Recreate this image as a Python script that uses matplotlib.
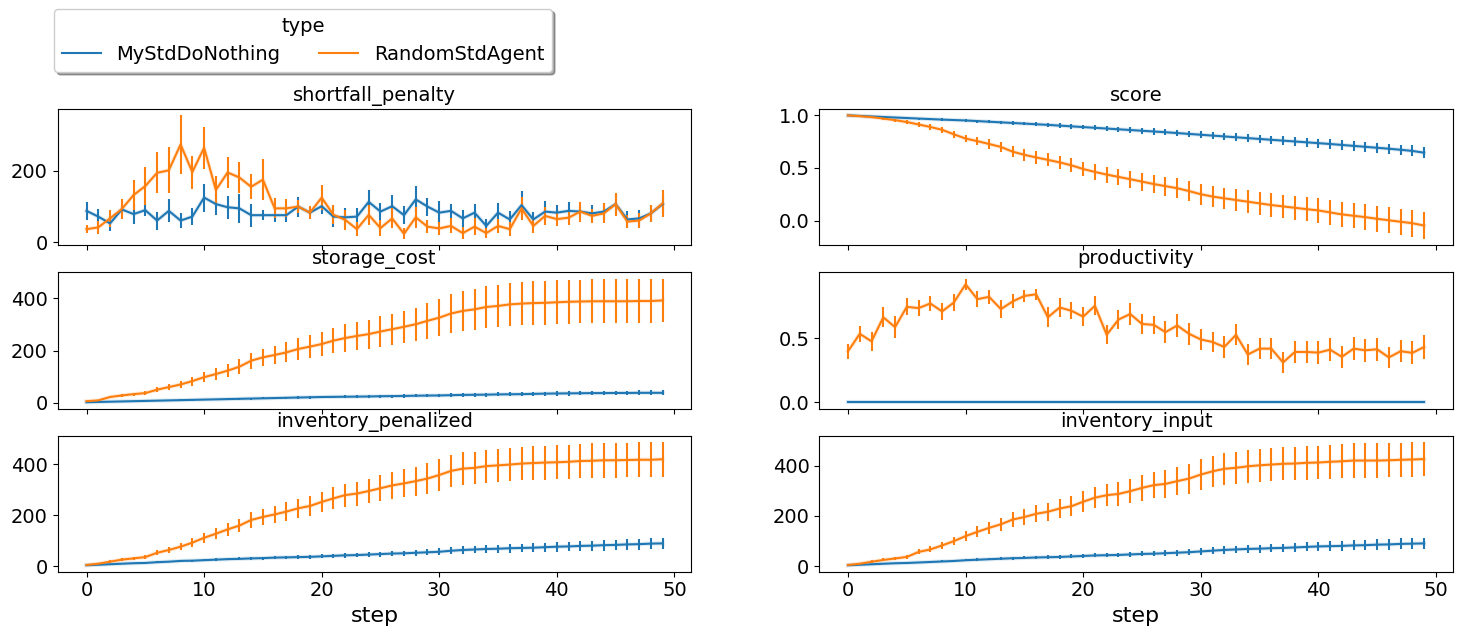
import matplotlib
matplotlib.use("Agg")
import matplotlib.pyplot as plt
from matplotlib.lines import Line2D
import numpy as np

steps = list(range(50))
agents = ["MyStdDoNothing", "RandomStdAgent"]
colors = ["#1f77b4", "#ff7f0e"]

# shortfall_penalty
shortfall_dn = [88, 72, 53, 92, 79, 90, 61, 88, 61, 72, 125, 107, 98, 95, 76, 76, 76, 76, 100, 83,
                101, 72, 70, 72, 113, 86, 101, 76, 120, 100, 83, 88, 67, 83, 46, 83, 64, 104, 64, 86,
                83, 88, 86, 81, 86, 107, 64, 67, 81, 107]
shortfall_dn_err = [26, 20, 21, 12, 29, 16, 25, 32, 20, 23, 39, 30, 32, 41, 32, 14, 19, 18, 28, 9,
                    23, 29, 25, 25, 32, 25, 30, 25, 37, 25, 32, 20, 24, 24, 20, 28, 25, 38, 20, 30,
                    21, 25, 19, 24, 23, 28, 23, 23, 23, 25]
shortfall_rd = [37, 42, 67, 93, 132, 157, 194, 201, 273, 196, 264, 146, 195, 181, 155, 175, 95, 95, 100, 83,
                125, 77, 63, 37, 77, 40, 67, 24, 70, 44, 39, 46, 26, 44, 26, 46, 37, 95, 46, 74,
                65, 69, 86, 74, 81, 107, 58, 61, 81, 109]
shortfall_rd_err = [11, 18, 23, 28, 41, 52, 57, 64, 81, 46, 58, 38, 42, 43, 35, 57, 28, 25, 18, 18,
                    34, 26, 28, 20, 28, 23, 28, 15, 30, 18, 18, 21, 17, 23, 14, 20, 20, 32, 20, 25,
                    20, 20, 28, 20, 28, 32, 18, 20, 23, 37]

# score
score_dn = [1.000, 0.995, 0.990, 0.985, 0.980, 0.975, 0.970, 0.965, 0.960, 0.956, 0.952, 0.946, 0.940,
            0.934, 0.928, 0.922, 0.916, 0.910, 0.903, 0.896, 0.889, 0.882, 0.875, 0.868, 0.861, 0.854,
            0.847, 0.840, 0.832, 0.824, 0.816, 0.808, 0.800, 0.792, 0.784, 0.776, 0.768, 0.760, 0.752,
            0.744, 0.736, 0.728, 0.719, 0.710, 0.701, 0.692, 0.683, 0.673, 0.662, 0.645]
score_dn_err = [0.0, 0.003, 0.005, 0.006, 0.007, 0.008, 0.009, 0.010, 0.011, 0.012, 0.013, 0.014, 0.015,
                0.016, 0.017, 0.018, 0.019, 0.020, 0.021, 0.022, 0.023, 0.024, 0.025, 0.026, 0.027, 0.028,
                0.029, 0.030, 0.031, 0.032, 0.033, 0.034, 0.035, 0.036, 0.037, 0.038, 0.039, 0.040, 0.041,
                0.042, 0.043, 0.044, 0.045, 0.046, 0.047, 0.048, 0.049, 0.050, 0.052, 0.055]
score_rd = [1.000, 0.993, 0.984, 0.970, 0.955, 0.937, 0.914, 0.890, 0.863, 0.820, 0.780, 0.755, 0.728,
            0.700, 0.655, 0.625, 0.600, 0.577, 0.553, 0.525, 0.490, 0.462, 0.437, 0.415, 0.393, 0.370,
            0.347, 0.327, 0.307, 0.280, 0.250, 0.228, 0.211, 0.195, 0.179, 0.163, 0.147, 0.134, 0.121,
            0.108, 0.096, 0.077, 0.058, 0.045, 0.032, 0.016, 0.002, -0.012, -0.026, -0.048]
score_rd_err = [0.0, 0.005, 0.008, 0.012, 0.015, 0.018, 0.022, 0.025, 0.028, 0.032, 0.036, 0.040, 0.044,
                0.048, 0.052, 0.055, 0.058, 0.061, 0.064, 0.067, 0.070, 0.073, 0.076, 0.079, 0.082, 0.085,
                0.088, 0.090, 0.093, 0.096, 0.099, 0.101, 0.103, 0.105, 0.107, 0.109, 0.111, 0.113, 0.114,
                0.116, 0.117, 0.118, 0.120, 0.121, 0.122, 0.124, 0.125, 0.126, 0.128, 0.130]

# storage_cost
storage_dn = [2, 3, 4, 5, 6, 7, 8, 9, 10, 11, 12, 13, 14, 15, 16, 17, 18, 19, 20, 21,
              22, 22.5, 23, 23.5, 24, 25, 25.5, 26, 27, 27.5, 28, 29, 30, 30.5, 31, 32, 32.5, 33, 34, 35,
              35.5, 36, 36.5, 37, 37, 37.5, 37.5, 38, 38, 38]
storage_dn_err = [0.5, 1, 1, 1.5, 1.5, 2, 2, 2.5, 2.5, 3, 3, 3, 3.5, 3.5, 4, 4, 4, 4.5, 4.5, 5,
                  5, 5, 5.5, 5.5, 6, 6, 6, 6.5, 6.5, 7, 7, 7, 7, 7.5, 7.5, 7.5, 8, 8, 8, 8,
                  8, 8.5, 8.5, 8.5, 8.5, 9, 9, 9, 9, 9]
storage_rd = [6, 9, 22, 28, 33, 37, 50, 60, 70, 83, 98, 110, 123, 138, 161, 174, 183, 193, 206, 215,
              225, 238, 248, 256, 263, 273, 282, 291, 301, 314, 326, 342, 352, 358, 367, 371, 377, 380, 382, 383,
              385, 387, 388, 389, 389, 389, 389, 390, 390, 392]
storage_rd_err = [1, 2, 4, 5, 6, 8, 10, 12, 14, 17, 20, 22, 25, 28, 30, 33, 36, 38, 41, 44,
                  46, 49, 52, 54, 56, 58, 60, 62, 64, 68, 72, 74, 76, 78, 80, 81, 82, 83, 84, 84,
                  84, 84, 84, 84, 84, 84, 84, 84, 84, 84]

# productivity
productivity_dn = [0.0] * 50
productivity_dn_err = [0.0] * 50
productivity_rd = [0.400, 0.536, 0.477, 0.665, 0.588, 0.747, 0.737, 0.773, 0.711, 0.781, 0.923, 0.807, 0.825,
                   0.729, 0.789, 0.832, 0.845, 0.665, 0.742, 0.716, 0.670, 0.755, 0.528, 0.647, 0.691, 0.613,
                   0.606, 0.549, 0.601, 0.536, 0.492, 0.472, 0.433, 0.528, 0.374, 0.420, 0.420, 0.312, 0.394,
                   0.394, 0.389, 0.412, 0.356, 0.420, 0.407, 0.415, 0.351, 0.400, 0.387, 0.433]
productivity_rd_err = [0.060, 0.064, 0.077, 0.077, 0.084, 0.067, 0.064, 0.055, 0.064, 0.067, 0.045, 0.064, 0.055,
                       0.070, 0.055, 0.046, 0.044, 0.077, 0.073, 0.067, 0.073, 0.075, 0.075, 0.077, 0.084, 0.075,
                       0.070, 0.084, 0.088, 0.085, 0.080, 0.077, 0.086, 0.081, 0.081, 0.080, 0.080, 0.085, 0.086,
                       0.086, 0.090, 0.090, 0.084, 0.090, 0.090, 0.090, 0.081, 0.084, 0.090, 0.095]

# inventory_penalized
inv_pen_dn = [3, 5, 7, 9, 11, 12, 15, 17, 20, 21, 23, 25, 27, 28, 30, 31, 33, 34, 35, 36,
              38, 40, 42, 43, 45, 47, 49, 50, 52, 54, 56, 60, 63, 65, 67, 68, 70, 71, 72, 74,
              76, 77, 79, 80, 82, 83, 85, 86, 88, 89]
inv_pen_dn_err = [1, 1, 2, 2, 2, 3, 3, 3, 4, 4, 5, 5, 5, 6, 6, 6, 7, 7, 7, 8,
                  8, 8, 9, 9, 10, 10, 11, 11, 12, 12, 13, 14, 15, 15, 16, 16, 17, 17, 18, 18,
                  19, 19, 20, 20, 21, 21, 22, 22, 23, 23]
inv_pen_rd = [4, 9, 17, 25, 30, 35, 52, 63, 76, 92, 111, 127, 144, 159, 181, 193, 203, 214, 227, 236,
              252, 266, 279, 285, 295, 306, 317, 325, 334, 344, 358, 374, 383, 386, 393, 396, 399, 403, 405, 407,
              408, 410, 413, 414, 416, 416, 417, 418, 418, 420]
inv_pen_rd_err = [2, 4, 5, 6, 7, 8, 10, 12, 14, 17, 20, 22, 25, 27, 30, 32, 34, 36, 38, 40,
                  41, 43, 45, 47, 49, 51, 53, 55, 57, 60, 62, 63, 64, 64, 65, 65, 66, 66, 66, 67,
                  67, 67, 67, 68, 68, 68, 68, 68, 68, 69]

# inventory_input
inv_in_dn = [3, 5, 7, 9, 11, 12, 14, 16, 18, 20, 23, 25, 27, 29, 31, 32, 34, 35, 36, 38,
             40, 42, 43, 44, 46, 48, 49, 51, 53, 55, 58, 61, 64, 66, 68, 69, 71, 72, 74, 76,
             78, 79, 80, 82, 83, 85, 86, 88, 89, 90]
inv_in_dn_err = [1, 1, 2, 2, 2, 3, 3, 3, 4, 4, 5, 5, 5, 6, 6, 6, 7, 7, 7, 8,
                 8, 8, 9, 9, 10, 10, 11, 11, 12, 12, 13, 14, 15, 15, 16, 16, 17, 17, 18, 18,
                 19, 19, 20, 20, 21, 21, 22, 22, 23, 23]
inv_in_rd = [4, 9, 17, 24, 30, 36, 56, 66, 82, 99, 119, 136, 152, 166, 185, 195, 208, 216, 229, 238,
             256, 272, 282, 287, 298, 311, 322, 327, 338, 348, 364, 377, 387, 391, 397, 401, 404, 407, 408, 411,
             412, 415, 417, 420, 420, 420, 421, 423, 424, 426]
inv_in_rd_err = [2, 4, 5, 6, 7, 8, 10, 12, 14, 17, 20, 22, 25, 27, 30, 32, 34, 36, 38, 40,
                 41, 43, 45, 47, 49, 51, 53, 55, 57, 60, 62, 63, 64, 64, 65, 65, 66, 66, 66, 67,
                 67, 67, 67, 68, 68, 68, 68, 68, 68, 69]

panels = [
    ("shortfall_penalty", [(shortfall_dn, shortfall_dn_err), (shortfall_rd, shortfall_rd_err)], [0, 200]),
    ("score", [(score_dn, score_dn_err), (score_rd, score_rd_err)], [0.0, 0.5, 1.0]),
    ("storage_cost", [(storage_dn, storage_dn_err), (storage_rd, storage_rd_err)], [0, 200, 400]),
    ("productivity", [(productivity_dn, productivity_dn_err), (productivity_rd, productivity_rd_err)], [0.0, 0.5]),
    ("inventory_penalized", [(inv_pen_dn, inv_pen_dn_err), (inv_pen_rd, inv_pen_rd_err)], [0, 200, 400]),
    ("inventory_input", [(inv_in_dn, inv_in_dn_err), (inv_in_rd, inv_in_rd_err)], [0, 200, 400]),
]

fig, axes = plt.subplots(3, 2, figsize=(14.61, 6.35), dpi=100, sharex='col')
fig.subplots_adjust(left=0.0395, right=0.9945, top=0.828, bottom=0.0997, wspace=0.2016, hspace=0.198)

for ax, (name, series, yt) in zip(axes.flat, panels):
    for (vals, err), c in zip(series, colors):
        # faint band under the line, like the original
        ax.plot(steps, vals, color=c, lw=3, alpha=0.15)
        if name == "productivity" and c == colors[0]:
            ax.plot(steps, vals, color=c, lw=1.5)
        else:
            ax.errorbar(steps, vals, yerr=err, color=c, lw=1.5, elinewidth=1.5, capsize=0)
    ax.set_title(name, fontsize=14)
    ax.set_yticks(yt)
    ax.tick_params(labelsize=14)

for ax in axes[-1]:
    ax.set_xlabel("step", fontsize=16)
    ax.set_xticks([0, 10, 20, 30, 40, 50])

handles = [Line2D([0], [0], color=c, lw=1.5) for c in colors]
fig.legend(handles, agents, title="type", ncol=2, loc="upper left",
           bbox_to_anchor=(0.0305, 1.0015), shadow=True, fontsize=14, title_fontsize=14)

plt.savefig("out.png", dpi=100)
